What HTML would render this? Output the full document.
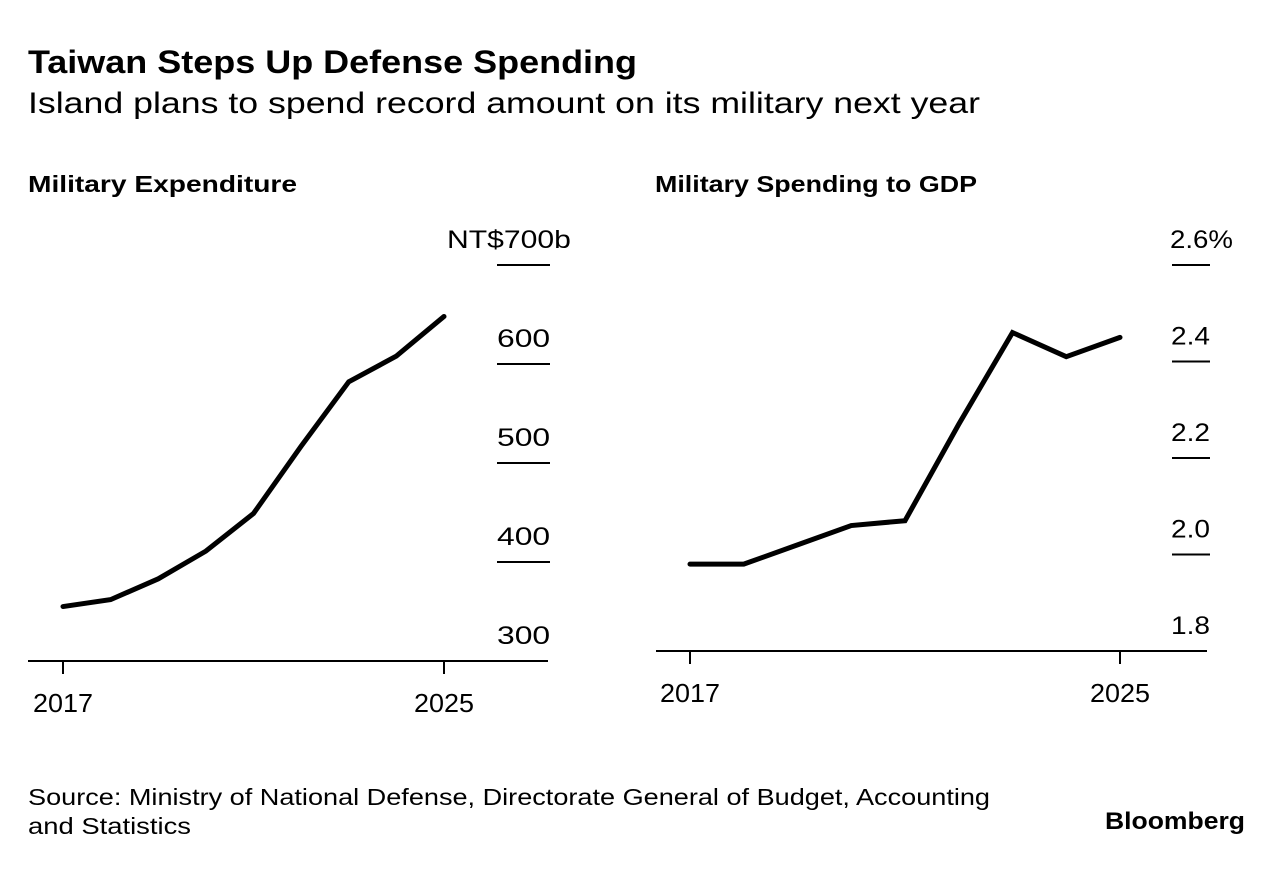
<!DOCTYPE html>
<html><head><meta charset="utf-8"><style>
body{margin:0;background:#fff;font-family:"Liberation Sans",Arial,sans-serif;}
svg text{font-family:"Liberation Sans",Arial,sans-serif;fill:#000;}
</style></head><body>
<svg width="1284" height="864" viewBox="0 0 1284 864" xmlns="http://www.w3.org/2000/svg">
<rect width="1284" height="864" fill="#fff"/>
<text x="28" y="73" font-size="32" font-weight="bold" textLength="609" lengthAdjust="spacingAndGlyphs">Taiwan Steps Up Defense Spending</text>
<text x="28" y="113" font-size="30" textLength="952" lengthAdjust="spacingAndGlyphs">Island plans to spend record amount on its military next year</text>
<text x="28" y="192" font-size="23" font-weight="bold" textLength="269" lengthAdjust="spacingAndGlyphs">Military Expenditure</text>
<text x="655" y="192" font-size="23" font-weight="bold" textLength="322" lengthAdjust="spacingAndGlyphs">Military Spending to GDP</text>
<g id="left"></g>
<g id="right"></g>
<text x="28" y="805" font-size="23" textLength="962" lengthAdjust="spacingAndGlyphs">Source: Ministry of National Defense, Directorate General of Budget, Accounting</text>
<text x="28" y="834" font-size="23" textLength="163" lengthAdjust="spacingAndGlyphs">and Statistics</text>
<text x="1105" y="829" font-size="24" font-weight="bold" textLength="140" lengthAdjust="spacingAndGlyphs">Bloomberg</text>
</svg>
<script>
const years=[2017,2018,2019,2020,2021,2022,2023,2024,2025];
const spend=[355,362,383,411,449,517,582,608,648];
const spendTicks=[300,400,500,600,700];
const spendTickLabels=["300","400","500","600","NT$700b"];
const gdp=[1.98,1.98,2.02,2.06,2.07,2.27,2.46,2.41,2.45];
const gdpTicks=[1.8,2.0,2.2,2.4,2.6];
const gdpTickLabels=["1.8","2.0","2.2","2.4","2.6%"];
const NS='http://www.w3.org/2000/svg';
function mk(t,a,p){const e=document.createElementNS(NS,t);for(const k in a)e.setAttribute(k,a[k]);p.appendChild(e);return e;}
function draw(g,cfg){
  const x=y=>cfg.x0+(y-years[0])*(cfg.x1-cfg.x0)/(years[years.length-1]-years[0]);
  const y=v=>cfg.y0+(v-cfg.v0)*(cfg.y1-cfg.y0)/(cfg.v1-cfg.v0);
  cfg.ticks.forEach((t,i)=>{
    if(i>0){const l=mk('line',{x1:cfg.tx0,x2:cfg.tx1,y1:y(t),y2:y(t),stroke:'#000','stroke-width':2},g);
    
    }
    const lab=cfg.labels[i];
    const isUnit=i===cfg.ticks.length-1;
    const lx=(isUnit&&cfg.unitX)?cfg.unitX:cfg.lx;
    const w=(isUnit&&cfg.unitW)?cfg.unitW:lab.length*cfg.charW;
    const tx=mk('text',{x:lx,y:y(t)-17,'font-size':25,textLength:w,lengthAdjust:'spacingAndGlyphs'},g);
    tx.textContent=lab;
    
    
  });
  const b=mk('line',{x1:cfg.bx0,x2:cfg.bx1,y1:y(cfg.v0),y2:y(cfg.v0),stroke:'#000','stroke-width':2},g);
  
  
  [years[0],years[years.length-1]].forEach(yr=>{
    const t=mk('line',{x1:x(yr),x2:x(yr),y1:y(cfg.v0),y2:y(cfg.v0)+13,stroke:'#000','stroke-width':2},g);
    
    
    const tx=mk('text',{x:x(yr)-30,y:y(cfg.v0)+51,'font-size':26,textLength:60,lengthAdjust:'spacingAndGlyphs'},g);
    tx.textContent=yr;
    
    
  });
  const p=mk('polyline',{points:cfg.data.map((v,i)=>x(years[i])+','+y(v)).join(' '),fill:'none',stroke:'#000','stroke-width':5,'stroke-linejoin':'miter','stroke-linecap':'round'},g);
  
  
}
draw(document.getElementById('left'),{x0:63,x1:444,y0:661,y1:265,v0:300,v1:700,ticks:spendTicks,labels:spendTickLabels,data:spend,tx0:497,tx1:550,lx:497,unitX:447,charW:17.7,bx0:28,bx1:548});
draw(document.getElementById('right'),{x0:690,x1:1120,y0:651,y1:265,v0:1.8,v1:2.6,ticks:gdpTicks,labels:gdpTickLabels,data:gdp,tx0:1172,tx1:1210,lx:1171,unitX:1170,unitW:63,charW:13,bx0:656,bx1:1207});
</script>
</body></html>
